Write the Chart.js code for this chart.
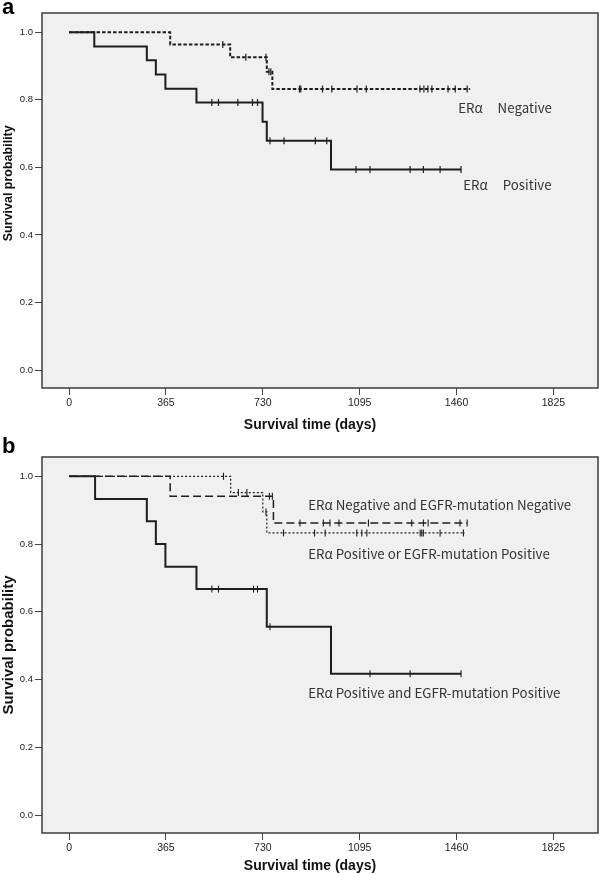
<!DOCTYPE html>
<html><head><meta charset="utf-8">
<script src="https://cdn.jsdelivr.net/npm/chart.js@4.4.1/dist/chart.umd.min.js"></script>
<style>
html,body{margin:0;padding:0;background:#fff;}
#wrap{position:relative;width:600px;height:874px;overflow:hidden;}
canvas{position:absolute;left:0;display:block;}
#ca{top:0;} #cb{top:437px;}
</style></head><body>
<div id="wrap">
<canvas id="ca" width="600" height="437"></canvas>
<canvas id="cb" width="600" height="437"></canvas>
</div>
<script>
// ---------- data ----------
const xTickValues = [0, 365, 730, 1095, 1460, 1825];
const xTickLabels = ['0', '365', '730', '1095', '1460', '1825'];
const yTickValues = [0, 0.2, 0.4, 0.6, 0.8, 1.0];
const yTickLabels = ['0.0', '0.2', '0.4', '0.6', '0.8', '1.0'];

// Panel a: ERα Positive
const aPosTimes = [0, 95, 293, 327, 363, 480, 729, 745, 987, 1477];
const aPosSurv  = [1.0, 0.958, 0.917, 0.875, 0.833, 0.792, 0.735, 0.679, 0.594, 0.594];
const aPosCens  = [538, 563, 636, 691, 710, 757, 810, 928, 971, 1081, 1134, 1285, 1335, 1398, 1477];
// Panel a: ERα Negative
const aNegTimes = [0, 381, 607, 745, 766, 1511];
const aNegSurv  = [1.0, 0.964, 0.926, 0.883, 0.832, 0.832];
const aNegCens  = [579, 666, 742, 753, 760, 868, 873, 955, 990, 1085, 1120, 1322, 1337, 1352, 1367, 1428, 1455, 1500];

// Panel b: ERα Positive and EGFR-mutation Positive
const bPPTimes = [0, 98, 293, 327, 363, 480, 745, 987, 1477];
const bPPSurv  = [1.0, 0.933, 0.867, 0.800, 0.733, 0.667, 0.556, 0.417, 0.417];
const bPPCens  = [538, 563, 695, 710, 757, 1134, 1285, 1477];
// Panel b: ERα Negative and EGFR-mutation Negative
const bNNTimes = [0, 381, 770, 1500];
const bNNSurv  = [1.0, 0.941, 0.862, 0.862];
const bNNCens  = [755, 766, 870, 958, 983, 1017, 1128, 1291, 1335, 1353, 1473, 1500];
// Panel b: ERα Positive or EGFR-mutation Positive
const bPOTimes = [0, 609, 730, 745, 1492];
const bPOSurv  = [1.0, 0.952, 0.895, 0.833, 0.833];
const bPOCens  = [582, 638, 670, 742, 808, 925, 965, 1084, 1103, 1122, 1323, 1329, 1335, 1398, 1486];

const aLabels = ['ERα     Negative', 'ERα     Positive'];
const bLabels = ['ERα Negative and EGFR-mutation Negative', 'ERα Positive or EGFR-mutation Positive', 'ERα Positive and EGFR-mutation Positive'];
const xTitle = 'Survival time (days)';
const yTitle = 'Survival probability';

// ---------- helpers ----------
function curve(times, surv) { return times.map((t, i) => ({x: t, y: surv[i]})); }
function stepAt(times, surv, t) {
  let s = surv[0];
  for (let i = 0; i < times.length; i++) if (times[i] <= t) s = surv[i];
  return s;
}
function censor(times, surv, cens) { return cens.map(t => ({x: t, y: stepAt(times, surv, t)})); }

const INK = '#1e1e1e';
function lineDS(times, surv, width, dash) {
  return {type: 'line', data: curve(times, surv), stepped: 'before', borderColor: INK, borderWidth: width,
    borderDash: dash, pointRadius: 0, fill: false, tension: 0, borderCapStyle: 'butt'};
}
function censDS(times, surv, cens, w) {
  return {type: 'scatter', data: censor(times, surv, cens), showLine: false, pointStyle: 'line', rotation: 90,
    pointRadius: 3.5, borderWidth: w, borderColor: INK, backgroundColor: INK};
}

const decor = {
  id: 'decor',
  beforeDraw(chart, args, o) {
    const {ctx, chartArea: a} = chart;
    ctx.save();
    ctx.fillStyle = '#f0f0f0';
    ctx.fillRect(a.left, a.top, a.right - a.left, a.bottom - a.top);
    ctx.restore();
  },
  afterDraw(chart, args, o) {
    const {ctx, chartArea: a, scales} = chart;
    ctx.save();
    ctx.strokeStyle = '#3c3c3c';
    ctx.lineWidth = 1.5;
    ctx.strokeRect(a.left, a.top, a.right - a.left, a.bottom - a.top);
    // panel letter
    ctx.fillStyle = '#000';
    ctx.font = 'bold 22px "Liberation Sans", Arial, sans-serif';
    ctx.textBaseline = 'alphabetic';
    ctx.textAlign = 'left';
    ctx.fillText(o.letter, 2, o.letterY);
    // x axis title
    ctx.fillStyle = '#111';
    ctx.font = 'bold 14px "Liberation Sans", Arial, sans-serif';
    ctx.textAlign = 'center';
    ctx.textBaseline = 'middle';
    ctx.fillText(xTitle, o.xTitleX, o.xTitleY);
    // y axis title
    ctx.save();
    ctx.font = 'bold ' + o.yTitleSize + 'px "Liberation Sans", Arial, sans-serif';
    ctx.translate(8.5, scales.y.getPixelForValue(o.yTitleAt));
    ctx.rotate(-Math.PI / 2);
    ctx.fillText(yTitle, 0, 0);
    ctx.restore();
    // curve labels
    ctx.fillStyle = '#333';
    ctx.font = '13.3px "Noto Sans CJK JP", sans-serif';
    ctx.textBaseline = 'middle';
    ctx.textAlign = 'left';
    o.items.forEach(it => {
      ctx.fillText(it.text, scales.x.getPixelForValue(it.x), scales.y.getPixelForValue(it.y));
    });
    ctx.restore();
  }
};

function makeOpts(cfg) {
  return {
    responsive: false, animation: false, devicePixelRatio: 1,
    layout: {autoPadding: false, padding: {top: cfg.padTop, right: 2, left: 0, bottom: 0}},
    plugins: {legend: {display: false}, tooltip: {enabled: false},
      decor: {letter: cfg.letter, letterY: cfg.letterY, items: cfg.items, yTitleSize: cfg.yTitleSize,
        yTitleAt: cfg.yTitleAt, xTitleX: 310, xTitleY: cfg.xTitleY}},
    scales: {
      x: {type: 'linear', min: -102, max: 1993,
        afterBuildTicks: s => { s.ticks = xTickValues.map(v => ({value: v})); },
        afterFit: s => { s.height = cfg.xH; s.paddingLeft = 0; s.paddingRight = 0; },
        grid: {drawOnChartArea: false, drawTicks: true, tickLength: 7, color: '#444', lineWidth: 1},
        border: {display: false},
        ticks: {padding: 2, autoSkip: false, maxRotation: 0, color: '#222',
          font: {size: 10.5, family: '"Liberation Sans", Arial, sans-serif'},
          callback: (v, i) => xTickLabels[i]},
        title: {display: false}
      },
      y: {type: 'linear', min: -0.053, max: 1.057,
        afterBuildTicks: s => { s.ticks = yTickValues.map(v => ({value: v})); },
        afterFit: s => { s.width = 42; s.paddingTop = 0; s.paddingBottom = 0; },
        grid: {drawOnChartArea: false, drawTicks: true, tickLength: 7, color: '#444', lineWidth: 1},
        border: {display: false},
        ticks: {padding: 2, autoSkip: false, color: '#222',
          font: {size: 9.5, family: '"Liberation Sans", Arial, sans-serif'},
          callback: (v, i) => yTickLabels[i]},
        title: {display: false}
      }
    }
  };
}

new Chart(document.getElementById('ca'), {
  type: 'line',
  data: {datasets: [
    lineDS(aNegTimes, aNegSurv, 2, [3.5, 2]),
    lineDS(aPosTimes, aPosSurv, 2, []),
    censDS(aNegTimes, aNegSurv, aNegCens, 1.2),
    censDS(aPosTimes, aPosSurv, aPosCens, 1.2)
  ]},
  options: makeOpts({padTop: 13, xH: 49, xTitleY: 425, yTitleSize: 12.5, yTitleAt: 0.553, letter: 'a', letterY: 14,
    items: [{text: aLabels[0], x: 1466, y: 0.776}, {text: aLabels[1], x: 1485, y: 0.548}]}),
  plugins: [decor]
});

new Chart(document.getElementById('cb'), {
  type: 'line',
  data: {datasets: [
    lineDS(bNNTimes, bNNSurv, 1.5, [8, 4]),
    lineDS(bPOTimes, bPOSurv, 1.2, [2, 2]),
    lineDS(bPPTimes, bPPSurv, 2, []),
    censDS(bNNTimes, bNNSurv, bNNCens, 1.1),
    censDS(bPOTimes, bPOSurv, bPOCens, 1.1),
    censDS(bPPTimes, bPPSurv, bPPCens, 1.1)
  ]},
  options: makeOpts({padTop: 20, xH: 41, xTitleY: 429, yTitleSize: 15, yTitleAt: 0.502, letter: 'b', letterY: 16,
    items: [{text: bLabels[0], x: 901, y: 0.916}, {text: bLabels[1], x: 901, y: 0.772}, {text: bLabels[2], x: 901, y: 0.361}]}),
  plugins: [decor]
});
</script>
</body></html>
